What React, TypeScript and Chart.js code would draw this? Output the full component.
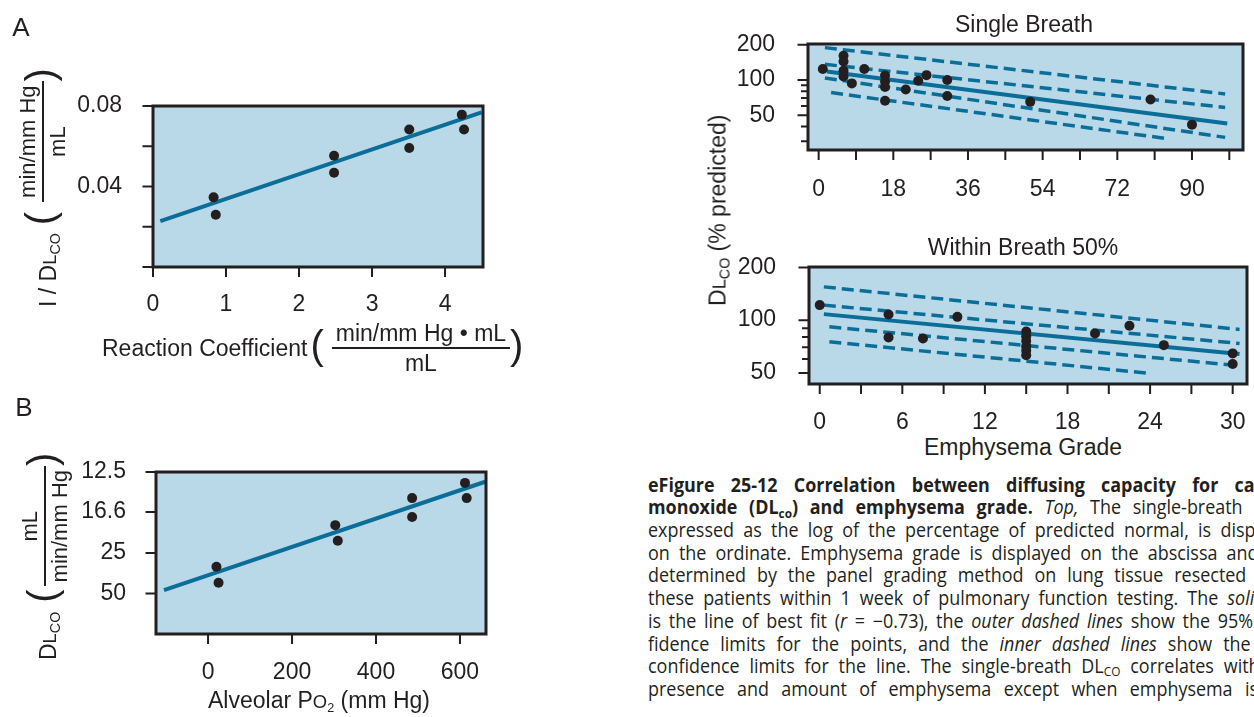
import React, { useEffect, useRef } from 'react';
import { Chart, registerables } from 'chart.js';

Chart.register(...registerables);

const INK = '#231f20';
const FILL = '#b9d8e8';
const LINE = '#0b6e98';
const SANS = '"Liberation Sans", Arial, Helvetica, sans-serif';

// ---------- Panel A : 1/DLCO vs reaction coefficient ----------
const aReaction = [0.83, 0.86, 2.48, 2.48, 3.51, 3.51, 4.23, 4.26];
const aInvDlco = [0.0346, 0.026, 0.0553, 0.0468, 0.0683, 0.0591, 0.0757, 0.0683];
const aFitReaction = [0.1, 4.5];
const aFitInvDlco = [0.0228, 0.0768];
const aXTicks = [0, 1, 2, 3, 4];
const aXTickLabels = ['0', '1', '2', '3', '4'];
const aYTicks = [0, 0.02, 0.04, 0.06, 0.08];
const aYTickLabels = ['', '', '0.04', '', '0.08'];

// ---------- Panel B : DLCO (reciprocal axis) vs alveolar PO2 ----------
const bAlveolarPo2 = [20, 25, 303, 309, 486, 486, 612, 616];
const bDlco = [30.1, 39.5, 18.6, 21.7, 14.9, 17.3, 13.4, 14.9];
const bFitPo2 = [-105, 660];
const bFitDlco = [46.1, 13.3];
const bXTicks = [0, 200, 400, 600];
const bXTickLabels = ['0', '200', '400', '600'];
const bYTickLabels = ['50', '25', '16.6', '12.5'];

// ---------- Single Breath ----------
const sbGrade = [1, 6, 6, 6, 6, 8, 11, 16, 16, 16, 16, 21, 24, 26, 31, 31, 51, 80, 90];
const sbDlco = [124, 161, 144, 120, 107, 93.5, 124, 109, 97, 87, 66.5, 83, 98.6, 110, 100, 73, 65, 68, 41.5];
const sbFitGrade = [2, 98.5];
const sbFitDlco = [118, 42.5];
const sbBandGrade = [1.5, 98];
const sbOuterUpper = [189, 76];
const sbInnerUpper = [136, 58.3];
const sbInnerLower = [104, 32.3];
const sbOuterLowerGrade = [3, 84.6];
const sbOuterLower = [78, 31.3];
const sbXTicks = [0, 9, 18, 27, 36, 45, 54, 63, 72, 81, 90, 99];
const sbXTickLabels = ['0', '', '18', '', '36', '', '54', '', '72', '', '90', ''];
const sbYTicks = [30, 40, 50, 60, 70, 80, 90, 100, 200];
const sbYTickLabels = ['', '', '50', '', '', '', '', '100', '200'];

// ---------- Within Breath 50% ----------
const wbGrade = [0, 5, 5, 7.5, 10, 15, 15, 15, 15, 15, 15, 20, 22.5, 25, 30, 30];
const wbDlco = [121.8, 107.8, 79.7, 78.6, 104.4, 86, 81, 76, 71, 67, 63, 84, 92.8, 72, 64.6, 56.2];
const wbFitGrade = [0.3, 30.5];
const wbFitDlco = [108.2, 64];
const wbBandGrade = [0.3, 30.5];
const wbOuterUpper = [154.8, 88.5];
const wbInnerUpper = [121.8, 73.6];
const wbLowerGrade = [0.7, 30.5];
const wbInnerLower = [91.6, 54.9];
const wbOuterLowerGrade = [0.7, 24];
const wbOuterLower = [75.2, 49.7];
const wbXTicks = [0, 3, 6, 9, 12, 15, 18, 21, 24, 27, 30];
const wbXTickLabels = ['0', '', '6', '', '12', '', '18', '', '24', '', '30'];
const wbYTicks = [50, 60, 70, 80, 90, 100, 200];
const wbYTickLabels = ['50', '', '', '', '', '100', '200'];

// ---------- helpers ----------
const pts = (xs: number[], ys: number[], f: (v: number) => number = (v) => v) =>
  xs.map((x, i) => ({ x, y: f(ys[i]) }));
const dots = (data: any[]) => ({
  data, showLine: false, pointRadius: 5, pointBackgroundColor: INK, pointBorderWidth: 0, order: 0,
});
const line = (data: any[], dashed = false) => ({
  data, showLine: true, pointRadius: 0, borderColor: LINE, borderWidth: dashed ? 3.5 : 4,
  borderDash: dashed ? [12, 6] : [], fill: false, order: 1,
});
const recip = (v: number) => 1 / v;

const framePlugin = {
  id: 'frame',
  beforeDatasetsDraw(chart: any) {
    const { ctx, chartArea: a } = chart;
    ctx.save();
    ctx.fillStyle = FILL;
    ctx.fillRect(a.left, a.top, a.right - a.left, a.bottom - a.top);
    ctx.restore();
  },
  afterDatasetsDraw(chart: any, _args: any, opts: any) {
    const { ctx, chartArea: a, scales } = chart;
    ctx.save();
    ctx.strokeStyle = INK;
    ctx.lineWidth = 3;
    ctx.strokeRect(a.left, a.top, a.right - a.left, a.bottom - a.top);
    ctx.lineWidth = 2;
    ctx.beginPath();
    scales.x.ticks.forEach((t: any) => {
      const px = scales.x.getPixelForValue(t.value);
      ctx.moveTo(px, a.bottom);
      ctx.lineTo(px, a.bottom + 10);
    });
    scales.y.ticks.forEach((t: any) => {
      const py = scales.y.getPixelForValue(t.value);
      const len = t.label ? 10.5 : opts.yMinorLen;
      ctx.moveTo(a.left, py);
      ctx.lineTo(a.left - len, py);
    });
    ctx.stroke();
    ctx.restore();
  },
};

type Spec = {
  left: number; top: number; w: number; h: number;
  box: { l: number; t: number; r: number; b: number };
  yType: 'linear' | 'logarithmic';
  xMin: number; xMax: number; yMin: number; yMax: number;
  xTicks: number[]; xLabels: string[];
  yTicks: number[]; yLabels: string[];
  yMinorLen: number; xPad: number; yPad: number;
  datasets: any[];
};

function buildConfig(s: Spec): any {
  const font = { family: SANS, size: 23 };
  return {
    type: 'scatter',
    data: { datasets: s.datasets },
    plugins: [framePlugin],
    options: {
      animation: false,
      responsive: false,
      devicePixelRatio: 1,
      events: [],
      layout: { padding: { left: 0, top: s.box.t - s.top, right: s.left + s.w - s.box.r, bottom: 0 } },
      plugins: {
        legend: { display: false },
        tooltip: { enabled: false },
        frame: { yMinorLen: s.yMinorLen },
      },
      scales: {
        x: {
          type: 'linear', position: 'bottom', min: s.xMin, max: s.xMax,
          afterBuildTicks: (sc: any) => { sc.ticks = s.xTicks.map((v) => ({ value: v })); },
          afterFit: (sc: any) => { sc.height = s.top + s.h - s.box.b; },
          grid: { display: false },
          border: { display: false },
          ticks: {
            autoSkip: false, maxRotation: 0, minRotation: 0, padding: s.xPad, color: INK, font,
            callback: (_v: any, i: number) => s.xLabels[i],
          },
        },
        y: {
          type: s.yType, position: 'left', min: s.yMin, max: s.yMax,
          afterBuildTicks: (sc: any) => { sc.ticks = s.yTicks.map((v) => ({ value: v })); },
          afterFit: (sc: any) => { sc.width = s.box.l - s.left; },
          grid: { display: false },
          border: { display: false },
          ticks: {
            autoSkip: false, padding: s.yPad, color: INK, font,
            callback: (_v: any, i: number) => s.yLabels[i],
          },
        },
      },
    },
  };
}

function ChartPanel({ spec }: { spec: Spec }) {
  const ref = useRef<HTMLCanvasElement>(null);
  useEffect(() => {
    const chart = new Chart(ref.current as HTMLCanvasElement, buildConfig(spec));
    return () => chart.destroy();
  }, []);
  return (
    <canvas
      ref={ref}
      width={spec.w}
      height={spec.h}
      style={{ position: 'absolute', left: spec.left, top: spec.top, width: spec.w, height: spec.h }}
    />
  );
}

const specA: Spec = {
  left: 0, top: 0, w: 520, h: 330,
  box: { l: 153, t: 106, r: 483, b: 267 },
  yType: 'linear', xMin: 0, xMax: 4.52, yMin: 0, yMax: 0.08,
  xTicks: aXTicks, xLabels: aXTickLabels, yTicks: aYTicks, yLabels: aYTickLabels,
  yMinorLen: 10.5, xPad: 16, yPad: 23,
  datasets: [dots(pts(aReaction, aInvDlco)), line(pts(aFitReaction, aFitInvDlco))],
};

const specB: Spec = {
  left: 0, top: 390, w: 520, h: 327,
  box: { l: 156, t: 472, r: 486, b: 634 },
  yType: 'linear', xMin: -124, xMax: 662, yMin: 0, yMax: 0.08,
  xTicks: bXTicks, xLabels: bXTickLabels,
  yTicks: bYTickLabels.map((l) => 1 / parseFloat(l)), yLabels: bYTickLabels,
  yMinorLen: 10.5, xPad: 17, yPad: 22,
  datasets: [dots(pts(bAlveolarPo2, bDlco, recip)), line(pts(bFitPo2, bFitDlco, recip))],
};

const specSB: Spec = {
  left: 700, top: 0, w: 580, h: 210,
  box: { l: 808, t: 44, r: 1243, b: 150 },
  yType: 'logarithmic', xMin: -2.57, xMax: 102.3, yMin: 25.2, yMax: 203,
  xTicks: sbXTicks, xLabels: sbXTickLabels, yTicks: sbYTicks, yLabels: sbYTickLabels,
  yMinorLen: 7, xPad: 18, yPad: 25,
  datasets: [
    dots(pts(sbGrade, sbDlco)),
    line(pts(sbFitGrade, sbFitDlco)),
    line(pts(sbBandGrade, sbOuterUpper), true),
    line(pts(sbBandGrade, sbInnerUpper), true),
    line(pts(sbBandGrade, sbInnerLower), true),
    line(pts(sbOuterLowerGrade, sbOuterLower), true),
  ],
};

const specWB: Spec = {
  left: 700, top: 220, w: 580, h: 210,
  box: { l: 809, t: 267, r: 1247, b: 384 },
  yType: 'logarithmic', xMin: -0.78, xMax: 31.04, yMin: 43.2, yMax: 201,
  xTicks: wbXTicks, xLabels: wbXTickLabels, yTicks: wbYTicks, yLabels: wbYTickLabels,
  yMinorLen: 7, xPad: 17, yPad: 25,
  datasets: [
    dots(pts(wbGrade, wbDlco)),
    line(pts(wbFitGrade, wbFitDlco)),
    line(pts(wbBandGrade, wbOuterUpper), true),
    line(pts(wbBandGrade, wbInnerUpper), true),
    line(pts(wbLowerGrade, wbInnerLower), true),
    line(pts(wbOuterLowerGrade, wbOuterLower), true),
  ],
};

// ---------- text helpers ----------
const Txt = ({ x, y, size = 23, children, style }: any) => (
  <div
    style={{
      position: 'absolute', left: x, top: y, transform: 'translate(-50%,-50%)',
      fontFamily: SANS, fontSize: size, lineHeight: 1, whiteSpace: 'nowrap', color: INK, ...style,
    }}
  >
    {children}
  </div>
);

const Row = ({ x, y, rotate, children }: any) => (
  <div
    style={{
      position: 'absolute', left: x, top: y, transformOrigin: '0 0',
      transform: rotate ? 'rotate(-90deg) translateY(-50%)' : 'translateY(-50%)',
      display: 'flex', alignItems: 'center', fontFamily: SANS, color: INK, whiteSpace: 'nowrap',
    }}
  >
    {children}
  </div>
);

const Paren = ({ ch, ml = 0, mr = 0 }: any) => (
  <span style={{ fontSize: 40, lineHeight: 1, position: 'relative', top: -3, marginLeft: ml, marginRight: mr }}>
    {ch}
  </span>
);

const Frac = ({ num, den, size = 22 }: any) => (
  <div style={{ display: 'flex', flexDirection: 'column', alignItems: 'center', padding: '0 4px', fontSize: size }}>
    <div style={{ lineHeight: '28px' }}>{num}</div>
    <div style={{ alignSelf: 'stretch', height: 2, background: INK, margin: '0 -4px' }} />
    <div style={{ lineHeight: '28px' }}>{den}</div>
  </div>
);

const DLco = () => (
  <span>
    D<span style={{ fontSize: '0.8em' }}>L</span>
    <span style={{ fontSize: '0.62em', position: 'relative', top: '0.3em' }}>CO</span>
  </span>
);

const Sub = ({ children }: any) => (
  <span style={{ fontSize: '0.66em', position: 'relative', top: '0.25em' }}>{children}</span>
);

const capLines: any[] = [
  <b>eFigure 25-12 Correlation between diffusing capacity for carbon</b>,
  <>
    <b>monoxide (DL<Sub>co</Sub>) and emphysema grade.</b> <i>Top,</i> The single-breath DL<Sub>CO</Sub>,
  </>,
  <>expressed as the log of the percentage of predicted normal, is displayed</>,
  <>on the ordinate. Emphysema grade is displayed on the abscissa and was</>,
  <>determined by the panel grading method on lung tissue resected from</>,
  <>
    these patients within 1 week of pulmonary function testing. The <i>solid line</i>
  </>,
  <>
    is the line of best fit (<i>r</i> = −0.73), the <i>outer dashed lines</i> show the 95% con-
  </>,
  <>
    fidence limits for the points, and the <i>inner dashed lines</i> show the 95%
  </>,
  <>
    confidence limits for the line. The single-breath DL<Sub>CO</Sub> correlates with the
  </>,
  <>presence and amount of emphysema except when emphysema is</>,
];
const capRight = [1297, 1298, 1300, 1300, 1298, 1302, 1297, 1297, 1297, 1258];

const CAP_LEFT = 648;
const CAP_TOP = 485;
const CAP_STEP = 22.7;
const CAP_SCALE = 0.92;

export default function App() {
  return (
    <div
      style={{
        position: 'absolute', left: 0, top: 0, width: 1254, height: 717,
        overflow: 'hidden', background: '#fff',
      }}
    >
      <ChartPanel spec={specA} />
      <ChartPanel spec={specB} />
      <ChartPanel spec={specSB} />
      <ChartPanel spec={specWB} />

      <Txt x={21} y={27} size={26}>A</Txt>
      <Txt x={24} y={407} size={26}>B</Txt>

      {/* Panel A x title */}
      <Row x={102} y={348}>
        <span style={{ fontSize: 23 }}>Reaction Coefficient</span>
        <Paren ch="(" ml={3} mr={8} />
        <Frac num="min/mm Hg • mL" den="mL" size={23} />
        <Paren ch=")" />
      </Row>

      {/* Panel A y title */}
      <Row x={43} y={307} rotate>
        <span style={{ fontSize: 23, marginTop: 10 }}>
          I / <DLco />
        </span>
        <Paren ch="(" ml={8} mr={10} />
        <Frac num="min/mm Hg" den="mL" size={22} />
        <Paren ch=")" />
      </Row>

      {/* Panel B y title */}
      <Row x={45} y={660} rotate>
        <span style={{ fontSize: 23, marginTop: 7 }}>
          <DLco />
        </span>
        <Paren ch="(" ml={9} mr={3} />
        <Frac num="mL" den="min/mm Hg" size={22} />
        <Paren ch=")" />
      </Row>

      <Txt x={319} y={700}>
        Alveolar P<span style={{ fontSize: '0.8em' }}>O</span>
        <span style={{ fontSize: '0.55em', position: 'relative', top: '0.35em' }}>2</span> (mm Hg)
      </Txt>

      <Txt x={1024} y={24}>Single Breath</Txt>
      <Txt x={1023} y={247}>Within Breath 50%</Txt>
      <Txt x={1023} y={447}>Emphysema Grade</Txt>
      <Row x={718} y={306} rotate>
        <span style={{ fontSize: 23 }}>
          <DLco /> (% predicted)
        </span>
      </Row>

      {capLines.map((content, i) => (
        <div
          key={i}
          style={{
            position: 'absolute',
            left: CAP_LEFT,
            top: CAP_TOP + i * CAP_STEP - CAP_STEP / 2,
            width: (capRight[i] - CAP_LEFT) / CAP_SCALE,
            height: CAP_STEP,
            lineHeight: `${CAP_STEP}px`,
            transform: `scaleX(${CAP_SCALE})`,
            transformOrigin: '0 0',
            textAlign: 'justify',
            textAlignLast: 'justify',
            whiteSpace: 'nowrap',
            fontFamily: '"Open Sans", "Noto Sans", sans-serif',
            fontSize: 19.5,
            color: INK,
          } as any}
        >
          {content}
        </div>
      ))}
    </div>
  );
}
